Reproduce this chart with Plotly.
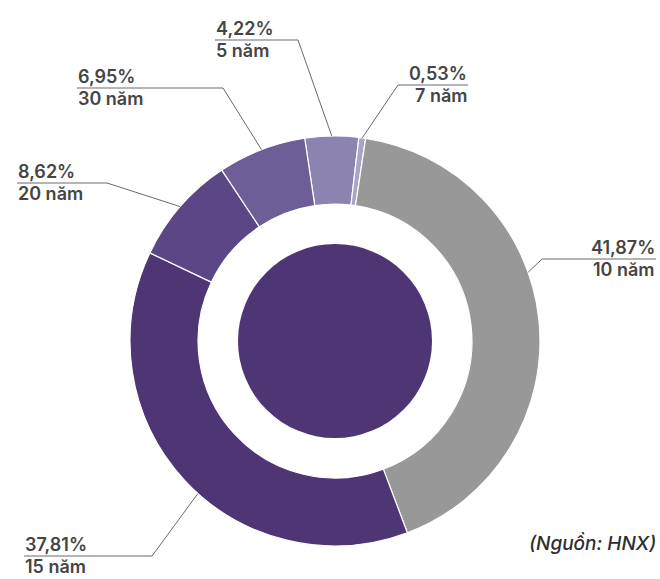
import math
import plotly.graph_objects as go

# Term structure of issued bonds (share of total, %)
terms = ["5 năm", "7 năm", "10 năm", "15 năm", "20 năm", "30 năm"]
shares = [4.22, 0.53, 41.87, 37.81, 8.62, 6.95]
colors = ["#8c83b0", "#aaa4c7", "#989898", "#4e3573", "#5b4786", "#6e5e98"]
source_note = "(Nguồn: HNX)"

# Canvas and donut geometry (pixels)
W, H = 660, 579
CX, CY, R = 335, 341, 205
HOLE = 0.668
CORE_R = 97
START_DEG = -8.5          # first slice starts this far from 12 o'clock, clockwise

# Label placement per slice: side, text x, underline y, underline x-range,
# and where along the slice (0..1) the leader meets the ring
label_layout = {
    "5 năm":  dict(side="left",  tx=215, uy=40,  ux=(215, 298), frac=0.5),
    "7 năm":  dict(side="right", tx=468, uy=85,  ux=(398, 468), frac=0.5),
    "10 năm": dict(side="right", tx=656, uy=259, ux=(542, 656), frac=0.41),
    "15 năm": dict(side="left",  tx=24,  uy=556, ux=(24, 152),  frac=0.46),
    "20 năm": dict(side="left",  tx=17,  uy=183, ux=(17, 107),  frac=0.5),
    "30 năm": dict(side="left",  tx=77,  uy=88,  ux=(77, 223),  frac=0.5),
}


def px(x):
    return x / W


def py(y):
    return 1 - y / H


fig = go.Figure()
fig.add_trace(go.Pie(
    labels=terms,
    values=shares,
    sort=False,
    direction="clockwise",
    rotation=START_DEG,
    hole=HOLE,
    textinfo="none",
    hoverinfo="label+percent",
    marker=dict(colors=colors, line=dict(color="white", width=1.2)),
    domain=dict(x=[px(CX - R), px(CX + R)], y=[py(CY + R), py(CY - R)]),
    showlegend=False,
))

shapes = [
    dict(type="circle", xref="paper", yref="paper",
         x0=px(CX - CORE_R), x1=px(CX + CORE_R),
         y0=py(CY + CORE_R), y1=py(CY - CORE_R),
         fillcolor="#4e3573", line=dict(width=0), layer="above"),
]
annotations = []

total = sum(shares)
angle = START_DEG
line_style = dict(color="#6a6a6a", width=1)
text_font = dict(family="Inter, sans-serif", size=18, color="#454545", weight=600)

for term, share in zip(terms, shares):
    span = share / total * 360
    cfg = label_layout[term]
    a = math.radians(angle + span * cfg["frac"])
    ex, ey = CX + R * math.sin(a), CY - R * math.cos(a)
    angle += span

    elbow_x = cfg["ux"][1] if cfg["side"] == "left" else cfg["ux"][0]
    shapes.append(dict(type="line", xref="paper", yref="paper",
                       x0=px(cfg["ux"][0]), x1=px(cfg["ux"][1]),
                       y0=py(cfg["uy"]), y1=py(cfg["uy"]), line=line_style))
    shapes.append(dict(type="line", xref="paper", yref="paper",
                       x0=px(elbow_x), y0=py(cfg["uy"]), x1=px(ex), y1=py(ey),
                       line=line_style))

    pct_text = f"{share:.2f}".replace(".", ",") + "%"
    for txt, dy, yanc in ((pct_text, 0, "bottom"), (term, -1, "top")):
        annotations.append(dict(
            x=px(cfg["tx"]), y=py(cfg["uy"] + dy), xref="paper", yref="paper",
            text=txt, showarrow=False, xanchor=cfg["side"], yanchor=yanc,
            font=text_font, borderpad=0,
        ))

annotations.append(dict(
    x=px(658), y=py(543), xref="paper", yref="paper",
    text=f"<i>{source_note}</i>", showarrow=False, xanchor="right", yanchor="middle",
    font=dict(family="Inter, sans-serif", size=19, color="#2e2e2e", weight=500),
))

fig.update_layout(
    width=W, height=H,
    margin=dict(l=0, r=0, t=0, b=0),
    paper_bgcolor="white", plot_bgcolor="white",
    shapes=shapes, annotations=annotations,
)

fig.write_html("out.html")
